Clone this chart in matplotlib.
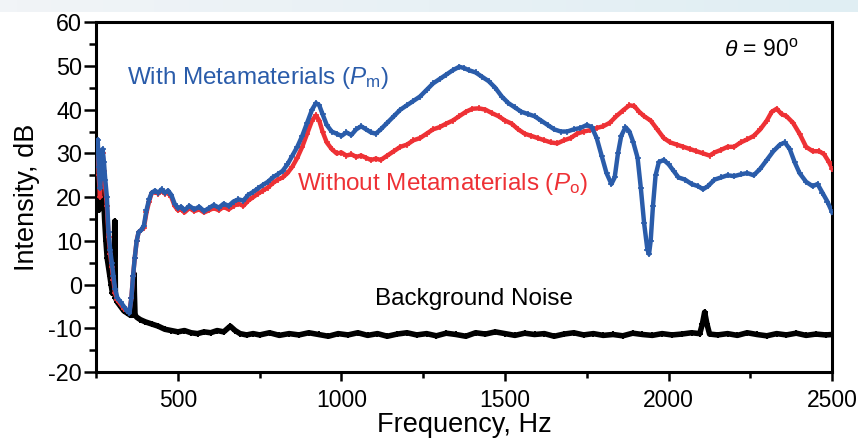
import numpy as np
import matplotlib.pyplot as plt
from matplotlib.ticker import MultipleLocator, FixedLocator
from matplotlib.colors import LinearSegmentedColormap

plt.rcParams['font.family'] = ['Liberation Sans', 'DejaVu Sans']
plt.rcParams['mathtext.fontset'] = 'custom'
plt.rcParams['mathtext.rm'] = 'Liberation Sans'
plt.rcParams['mathtext.it'] = 'Liberation Sans:italic'
plt.rcParams['axes.unicode_minus'] = False

# Data (frequency in Hz, intensity in dB)

freq_with = [255, 258, 262, 266, 270, 274, 278, 283, 288, 293, 298, 303, 308, 315, 325,
             335, 345, 352, 358, 363, 368, 374, 380, 388, 396, 404, 412, 420, 430, 440,
             450, 460, 470, 480, 490, 500, 510, 520, 535, 550, 565, 580, 595, 610, 625,
             640, 655, 670, 685, 700, 715, 730, 745, 760, 775, 790, 805, 820, 835, 850,
             865, 880, 895, 910, 922, 932, 942, 955, 970, 985, 1000, 1015, 1030, 1045, 1060,
             1075, 1090, 1105, 1120, 1140, 1160, 1180, 1200, 1220, 1240, 1260, 1280, 1300, 1320, 1340,
             1360, 1375, 1390, 1410, 1430, 1450, 1470, 1490, 1510, 1530, 1550, 1570, 1590, 1610, 1630,
             1650, 1670, 1690, 1710, 1730, 1750, 1765, 1780, 1795, 1810, 1825, 1835, 1845, 1855, 1868,
             1880, 1892, 1905, 1915, 1925, 1935, 1940, 1945, 1952, 1960, 1970, 1985, 2000, 2015, 2030,
             2050, 2070, 2090, 2105, 2120, 2140, 2160, 2180, 2200, 2220, 2240, 2260, 2280, 2300, 2320,
             2340, 2355, 2370, 2385, 2400, 2420, 2440, 2455, 2470, 2485, 2500]
db_with = [33, 27, 22, 26, 31, 28, 24, 20, 12, 8, 5, 2, -1, -3, -4,
           -5, -6, -6.5, -3, 2, 6, 10, 12, 12.5, 13.5, 17, 19.5, 21, 21.5, 21,
           21.8, 21, 21.5, 20.5, 18.5, 17.5, 17.8, 17, 18, 17.2, 17.8, 16.8, 17.5, 18.2, 17.6,
           18.5, 18, 19, 19.5, 19.2, 20.5, 21.2, 22, 22.8, 23.5, 24.5, 25.2, 26, 27.5, 29.5,
           31.5, 34, 37, 40, 41.5, 41, 39, 36.5, 35, 34.5, 34, 34.8, 34.2, 35.5, 36.2,
           35.5, 34.8, 34.5, 35.5, 37, 38.5, 40, 41, 42, 43, 44.5, 46, 47, 48, 49,
           49.8, 49.5, 49, 48.5, 47.5, 46.5, 45, 43, 41.5, 40.5, 39.5, 39, 38.5, 37.5, 36.5,
           35.5, 35, 35, 35.5, 35.8, 36.5, 36, 33.5, 29.5, 25.5, 23, 24.5, 30, 34, 36,
           35, 32.5, 29, 22, 14, 8, 7, 10, 18, 25, 28, 28.5, 27.5, 26, 24.5,
           24, 23, 22.5, 21.8, 22.5, 24, 24.5, 25, 24.8, 25.2, 25.5, 25, 26.5, 28.5, 30.5,
           32, 32.5, 31, 28, 25.5, 23.5, 22.5, 23, 21, 19, 16.5]

freq_without = [255, 258, 262, 266, 270, 274, 278, 283, 288, 293, 298, 303, 308, 315, 325,
                335, 345, 352, 358, 363, 368, 374, 380, 388, 396, 404, 412, 420, 430, 440,
                450, 460, 470, 480, 490, 500, 510, 520, 535, 550, 565, 580, 595, 610, 625,
                640, 655, 670, 685, 700, 715, 730, 745, 760, 775, 790, 805, 820, 835, 850,
                865, 880, 895, 910, 922, 932, 942, 955, 970, 985, 1000, 1015, 1030, 1045, 1060,
                1075, 1090, 1105, 1120, 1140, 1160, 1180, 1200, 1220, 1240, 1260, 1280, 1300, 1320, 1340,
                1360, 1380, 1400, 1420, 1440, 1460, 1480, 1500, 1520, 1540, 1560, 1580, 1600, 1620, 1640,
                1660, 1680, 1700, 1720, 1740, 1760, 1780, 1800, 1820, 1840, 1860, 1880, 1895, 1910, 1925,
                1945, 1965, 1985, 2005, 2025, 2045, 2065, 2085, 2105, 2125, 2140, 2160, 2180, 2200, 2220,
                2240, 2260, 2280, 2300, 2315, 2330, 2345, 2360, 2380, 2400, 2420, 2440, 2460, 2475, 2490,
                2500]
db_without = [30, 25, 20, 27, 30, 26, 22, 18, 11, 7, 4, 1, -2, -3.5, -4.5,
              -5.5, -6, -6, -3, 2, 6, 10, 12, 12.5, 13, 16.5, 19, 21, 21.2, 20.8,
              21.5, 20.8, 21, 20, 18, 17, 17.2, 16.5, 17.5, 16.8, 17.2, 16.5, 17, 17.5, 17,
              17.8, 17.2, 18, 18.5, 18, 19.2, 20, 20.8, 21.5, 22.2, 23.2, 24, 24.5, 25.5, 27,
              29, 31.5, 34.5, 37.5, 38.7, 37.5, 35, 32.5, 31, 30, 30.2, 29.5, 29.8, 29.2, 29.5,
              29, 28.5, 28.8, 28.5, 29.5, 30.5, 31.5, 32, 33, 33.5, 34.5, 35.5, 36, 36.8, 37.5,
              38.5, 39.5, 40.2, 40.3, 40, 39.2, 38.5, 37.5, 36.8, 35.5, 34.5, 34, 33.5, 33, 32.5,
              32.3, 33, 33.5, 34.5, 35, 35.3, 35.8, 36.2, 37, 38.5, 39.8, 41, 40.8, 39.5, 38.5,
              37.5, 35.5, 33.5, 32.5, 32, 31.5, 31, 30.5, 30, 29.5, 30.2, 30.8, 31.5, 31.5, 32.5,
              33.2, 34, 35.5, 37.5, 39.5, 40.2, 39, 38.5, 37, 34.5, 31.5, 30.5, 30.5, 29.8, 28,
              26.5]

freq_noise = [255, 258, 261, 264, 267, 270, 273, 276, 280, 284, 288, 292, 296, 300, 304,
              306, 307, 308, 309, 315, 325, 335, 345, 355, 362, 365, 366, 367, 369, 375,
              385, 400, 420, 440, 460, 480, 500, 520, 540, 560, 580, 600, 620, 640, 660,
              675, 690, 710, 730, 750, 780, 810, 840, 870, 900, 930, 960, 990, 1020, 1050,
              1080, 1110, 1140, 1170, 1200, 1230, 1260, 1290, 1320, 1350, 1380, 1410, 1440, 1470, 1500,
              1530, 1560, 1590, 1620, 1650, 1680, 1710, 1740, 1770, 1800, 1830, 1860, 1890, 1920, 1950,
              1980, 2010, 2040, 2070, 2095, 2103, 2110, 2117, 2125, 2150, 2180, 2210, 2240, 2270, 2300,
              2330, 2360, 2390, 2420, 2450, 2480, 2500]
db_noise = [24, 17, 22, 18, 28, 25, 20, 15, 10, 6, 4, 2, 0, -2, -2,
            8, 14.5, 8, -3, -4, -5, -6, -6.5, -7, -7, -2, 2.5, -2, -7, -7.5,
            -8, -8.5, -9, -9.5, -10.2, -10.5, -10.8, -10.5, -11, -11.2, -10.8, -11, -10.5, -10.8, -9.5,
            -10.5, -11.2, -11.5, -11.2, -11.5, -11, -11.6, -11.2, -11.5, -11, -11.4, -11.8, -11.2, -11.5, -11,
            -11.6, -11.2, -11.8, -11.3, -11, -11.5, -11.2, -11.7, -11.1, -11.4, -11.8, -11, -11.3, -10.8, -11.2,
            -11.6, -11.1, -11.4, -11.2, -11.8, -11.3, -11, -11.5, -11.2, -11.6, -11.4, -11.7, -11.1, -11.4, -11.6,
            -11.2, -11.5, -11.3, -11, -11.2, -9, -6.3, -9, -11.3, -11.5, -11.2, -11.6, -11, -11.4, -11.7,
            -11.2, -11.5, -11.1, -11.6, -11.3, -11.5, -11.4]

blue = '#2a5caa'
red = '#ee3135'

fig = plt.figure(figsize=(8.58, 4.43), dpi=100)

# pale slide background strip along the top
bg = fig.add_axes([0, 0.972, 1, 0.028])
bg.imshow(np.linspace(0, 1, 50).reshape(1, -1), aspect='auto',
          cmap=LinearSegmentedColormap.from_list('strip', ['#f1f4f7', '#e8f1f5', '#e0eef3']))
bg.axis('off')

ax = fig.add_axes([0.112, 0.160, 0.858, 0.790])

ax.plot(freq_noise, db_noise, color='black', lw=4, marker='+', ms=5, mew=1.4, zorder=2)
ax.plot(freq_without, db_without, color=red, lw=3.2, marker='+', ms=5, mew=1.2, zorder=3)
ax.plot(freq_with, db_with, color=blue, lw=3.2, marker='+', ms=5, mew=1.2, zorder=4)

ax.set_xlim(250, 2500)
ax.set_ylim(-20, 60)
ax.xaxis.set_major_locator(FixedLocator([500, 1000, 1500, 2000, 2500]))
ax.xaxis.set_minor_locator(FixedLocator([250, 750, 1250, 1750, 2250]))
ax.yaxis.set_major_locator(MultipleLocator(10))
ax.yaxis.set_minor_locator(MultipleLocator(5))

ax.tick_params(axis='y', which='major', direction='out', length=9, width=1.8, labelsize=16.8, pad=1)
ax.tick_params(axis='y', which='minor', direction='out', length=5, width=1.8)
ax.tick_params(axis='x', which='major', direction='out', length=6.5, width=1.8, labelsize=16.5, pad=6)
ax.tick_params(axis='x', which='minor', direction='out', length=4, width=1.8)
for s in ax.spines.values():
    s.set_linewidth(2.2)

ax.set_xlabel('Frequency, Hz', fontsize=19.5, labelpad=0)
ax.set_ylabel('Intensity, dB', fontsize=19.5, labelpad=6)

ax.text(344, 47.2, r'With Metamaterials ($\mathit{P}_\mathrm{m}$)', color=blue,
        fontsize=17.5, va='center', ha='left')
ax.text(863, 23, r'Without Metamaterials ($\mathit{P}_\mathrm{o}$)', color=red,
        fontsize=17.5, va='center', ha='left')
ax.text(1101, -3.3, 'Background Noise', color='black', fontsize=17.5, va='center', ha='left')
ax.text(2168, 53.6, r'$\mathit{\theta}$ = 90$^\mathrm{o}$', color='black',
        fontsize=16.5, va='center', ha='left')

plt.savefig('out.png', dpi=100)
plt.close()
